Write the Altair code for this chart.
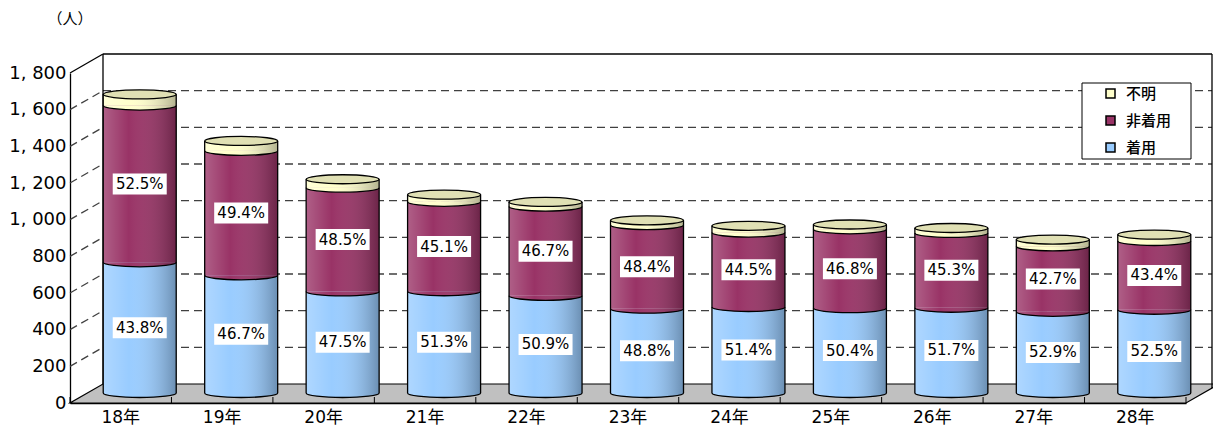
import altair as alt
import pandas as pd

# ---------------- data ----------------
years = ["18年", "19年", "20年", "21年", "22年", "23年", "24年", "25年", "26年", "27年", "28年"]
wearing = [713, 642, 554, 555, 530, 460, 469, 463, 465, 443, 454]
not_wearing = [855, 679, 566, 488, 487, 456, 406, 430, 408, 357, 375]
unknown = [61, 54, 46, 39, 25, 26, 37, 26, 27, 37, 35]
wearing_pct = ["43.8%", "46.7%", "47.5%", "51.3%", "50.9%", "48.8%", "51.4%", "50.4%", "51.7%", "52.9%", "52.5%"]
not_wearing_pct = ["52.5%", "49.4%", "48.5%", "45.1%", "46.7%", "48.4%", "44.5%", "46.8%", "45.3%", "42.7%", "43.4%"]
series_names = ["不明", "非着用", "着用"]
series_colors = ["#ffffcc", "#993366", "#99ccff"]
y_ticks = [0, 200, 400, 600, 800, 1000, 1200, 1400, 1600, 1800]

# ---------------- geometry constants ----------------
W, H = 1116, 330          # front plot area
DX, DY = 33, -19          # depth offset of back wall
RX = 26                   # visible right end of back wall (page edge)
BX, BY = 19, -10          # offset of cylinders (mid depth)
A, B = 36.5, 4.5          # ellipse half axes of cylinders
BAR_W = 2 * A
BAND = W / len(years)

rows, labels = [], []
for i, yr in enumerate(years):
    w, n, u = wearing[i], not_wearing[i], unknown[i]
    segs = [("着用", 0, w), ("非着用", w, w + n), ("不明", w + n, w + n + u)]
    for s, lo, hi in segs:
        rows.append({"year": yr, "series": s, "lo": lo, "hi": hi})
    labels.append({"year": yr, "mid": w / 2, "text": wearing_pct[i]})
    labels.append({"year": yr, "mid": w + n / 2, "text": not_wearing_pct[i]})
seg_df = pd.DataFrame(rows)
lab_df = pd.DataFrame(labels)
tot_df = pd.DataFrame({"year": years,
                       "total": [wearing[i] + not_wearing[i] + unknown[i] for i in range(len(years))],
                       "zero": [0] * len(years)})
grid_df = pd.DataFrame({"v": y_ticks[1:-1]})
one = pd.DataFrame({"a": [0]})

# ---------------- shared encodings ----------------
FONT_NUM = "DejaVu Sans, Noto Sans CJK JP"
x_axis = alt.Axis(title=None, labelFont=FONT_NUM, labelFontSize=17, labelColor="black",
                  labelPadding=6, ticks=False, domainColor="black", domainWidth=1.3,
                  labelAngle=0)
y_axis = alt.Axis(title=None, values=y_ticks, labelFont=FONT_NUM, labelFontSize=18,
                  labelColor="black", labelPadding=4, ticks=False,
                  domainColor="black", domainWidth=1.3, grid=False,
                  labelExpr="replace(format(datum.value, ','), ',', ', ')")
xscale = alt.Scale(domain=years, paddingInner=0, paddingOuter=0)
yscale = alt.Scale(domain=[0, 1800], nice=False, zero=True)


def X():
    return alt.X("year:N", scale=xscale, axis=x_axis, sort=years)


def Y(field):
    return alt.Y(f"{field}:Q", scale=yscale, axis=y_axis)


legend = alt.Legend(title=None, orient="none", legendX=1033, legendY=13,
                    symbolType="square", symbolSize=81, symbolStrokeColor="black",
                    symbolStrokeWidth=1.5, symbolOpacity=1, labelFont="Noto Sans CJK JP",
                    labelFontSize=15, labelFontWeight=500, labelColor="black",
                    rowPadding=11, labelOffset=8, padding=0)
COLOR = alt.Color("series:N", scale=alt.Scale(domain=series_names, range=series_colors),
                  legend=legend)

shade = alt.LinearGradient(
    gradient="linear", x1=0, x2=1, y1=0, y2=0,
    stops=[alt.GradientStop(color="rgba(255,255,255,0.22)", offset=0),
           alt.GradientStop(color="rgba(255,255,255,0.0)", offset=0.35),
           alt.GradientStop(color="rgba(0,0,0,0.30)", offset=1)])

dash = [8, 5]

# ---------------- decorations (3D frame) ----------------
floor_path = f"M 0 0 H {W} L {W + DX} {DY} H {DX} Z"
floor = alt.Chart(one).mark_point(shape=floor_path, size=4, filled=True, fill="#c0c0c0",
                                  stroke="black", strokeWidth=1.2, opacity=1).encode(
    x=alt.value(0), y=alt.value(H))

back_grid = alt.Chart(grid_df).mark_rule(color="#404040", strokeDash=dash, strokeWidth=1.3,
                                         yOffset=DY).encode(
    x=alt.value(DX), x2=alt.value(W + RX), y=Y("v"))
side_grid = alt.Chart(grid_df).mark_rule(color="#404040", strokeDash=dash, strokeWidth=1.3,
                                         y2Offset=DY).encode(
    x=alt.value(0), x2=alt.value(DX), y=Y("v"), y2=alt.Y2("v:Q"))

frame_style = dict(color="black", strokeWidth=1.3)
wall_top = alt.Chart(one).mark_rule(**frame_style).encode(
    x=alt.value(DX), x2=alt.value(W + RX), y=alt.value(DY), y2=alt.value(DY))
wall_left = alt.Chart(one).mark_rule(**frame_style).encode(
    x=alt.value(DX), x2=alt.value(DX), y=alt.value(DY), y2=alt.value(H + DY))
wall_right = alt.Chart(one).mark_rule(**frame_style).encode(
    x=alt.value(W + RX), x2=alt.value(W + RX), y=alt.value(DY), y2=alt.value(H + DY * RX / DX))
wall_diag = alt.Chart(one).mark_rule(**frame_style).encode(
    x=alt.value(0), x2=alt.value(DX), y=alt.value(0), y2=alt.value(DY))

# category separators on the floor's front edge (pointing up into the floor)
x_ticks = alt.Chart(tot_df).mark_rule(color="black", strokeWidth=1, xOffset=-BAND / 2).encode(
    x=X(), y=alt.value(H - 6), y2=alt.value(H))
x_tick_end = alt.Chart(one).mark_rule(color="black", strokeWidth=1).encode(
    x=alt.value(W), y=alt.value(H - 6), y2=alt.value(H))

unit_text = alt.Chart(one).mark_text(text="（人）", font="Noto Sans CJK JP", fontSize=15,
                                     color="black").encode(
    x=alt.value(0), y=alt.value(-54))

legend_box = alt.Chart(one).mark_rect(fill="white", stroke="black", strokeWidth=1).encode(
    x=alt.value(1012), x2=alt.value(1121), y=alt.value(10), y2=alt.value(86))

# ---------------- cylinders ----------------
off = dict(xOffset=BX, x2Offset=BX, yOffset=BY, y2Offset=BY)
bars = alt.Chart(seg_df).mark_bar(size=BAR_W, strokeWidth=0, opacity=1, **off).encode(
    x=X(), y=Y("hi"), y2=alt.Y2("lo:Q"), color=COLOR)
bars_shade = alt.Chart(seg_df).mark_bar(size=BAR_W, strokeWidth=0, fill=shade, **off).encode(
    x=X(), y=Y("hi"), y2=alt.Y2("lo:Q"))

half_fill = f"M {-A} 0 A {A} {B} 0 0 0 {A} 0 Z"
half_arc = f"M {-A} 0 A {A} {B} 0 0 0 {A} 0"
full_ell = f"M {-A} 0 A {A} {B} 0 1 0 {A} 0 A {A} {B} 0 1 0 {-A} 0 Z"
poff = dict(xOffset=BX, yOffset=BY)

bottoms = alt.Chart(seg_df).mark_point(shape=half_fill, size=4, filled=True, opacity=1,
                                       strokeWidth=0, **poff).encode(
    x=X(), y=Y("lo"), color=COLOR)
bottoms_shade = alt.Chart(seg_df).mark_point(shape=half_fill, size=4, filled=True, opacity=1,
                                             fill=shade, strokeWidth=0, **poff).encode(
    x=X(), y=Y("lo"))
arcs = alt.Chart(seg_df).mark_point(shape=half_arc, size=4, filled=False, opacity=1,
                                    stroke="black", strokeWidth=1.3, **poff).encode(
    x=X(), y=Y("lo"))
caps = alt.Chart(tot_df).mark_point(shape=full_ell, size=4, filled=True, opacity=1,
                                    fill="#e0e0b4", stroke="black", strokeWidth=1.3,
                                    **poff).encode(
    x=X(), y=Y("total"))
side_l = alt.Chart(tot_df).mark_rule(color="black", strokeWidth=1.3, xOffset=BX - A,
                                     yOffset=BY, y2Offset=BY).encode(
    x=X(), y=Y("total"), y2=alt.Y2("zero:Q"))
side_r = alt.Chart(tot_df).mark_rule(color="black", strokeWidth=1.3, xOffset=BX + A,
                                     yOffset=BY, y2Offset=BY).encode(
    x=X(), y=Y("total"), y2=alt.Y2("zero:Q"))

# ---------------- labels ----------------
box_path = "M -27 -10.5 H 27 V 10.5 H -27 Z"
lab_boxes = alt.Chart(lab_df).mark_point(shape=box_path, size=4, filled=True, fill="white",
                                         opacity=1, strokeWidth=0, **poff).encode(
    x=X(), y=Y("mid"))
lab_text = alt.Chart(lab_df).mark_text(font="DejaVu Sans", fontSize=15,
                                       color="black", baseline="middle", align="center",
                                       **poff).encode(
    x=X(), y=Y("mid"), text="text:N")

chart = alt.layer(
    floor, back_grid, side_grid, wall_top, wall_left, wall_right, wall_diag, x_ticks, x_tick_end,
    bars, bars_shade, bottoms, bottoms_shade, arcs, caps, side_l, side_r,
    lab_boxes, lab_text, unit_text, legend_box
).properties(
    width=W, height=H,
    background="white",
    autosize=alt.AutoSizeParams(type="none"),
    padding={"left": 62, "top": 65, "right": 27, "bottom": 27},
).configure_view(strokeWidth=0, stroke="transparent")

chart.save("out.html", embed_options={"renderer": "svg", "actions": False})
